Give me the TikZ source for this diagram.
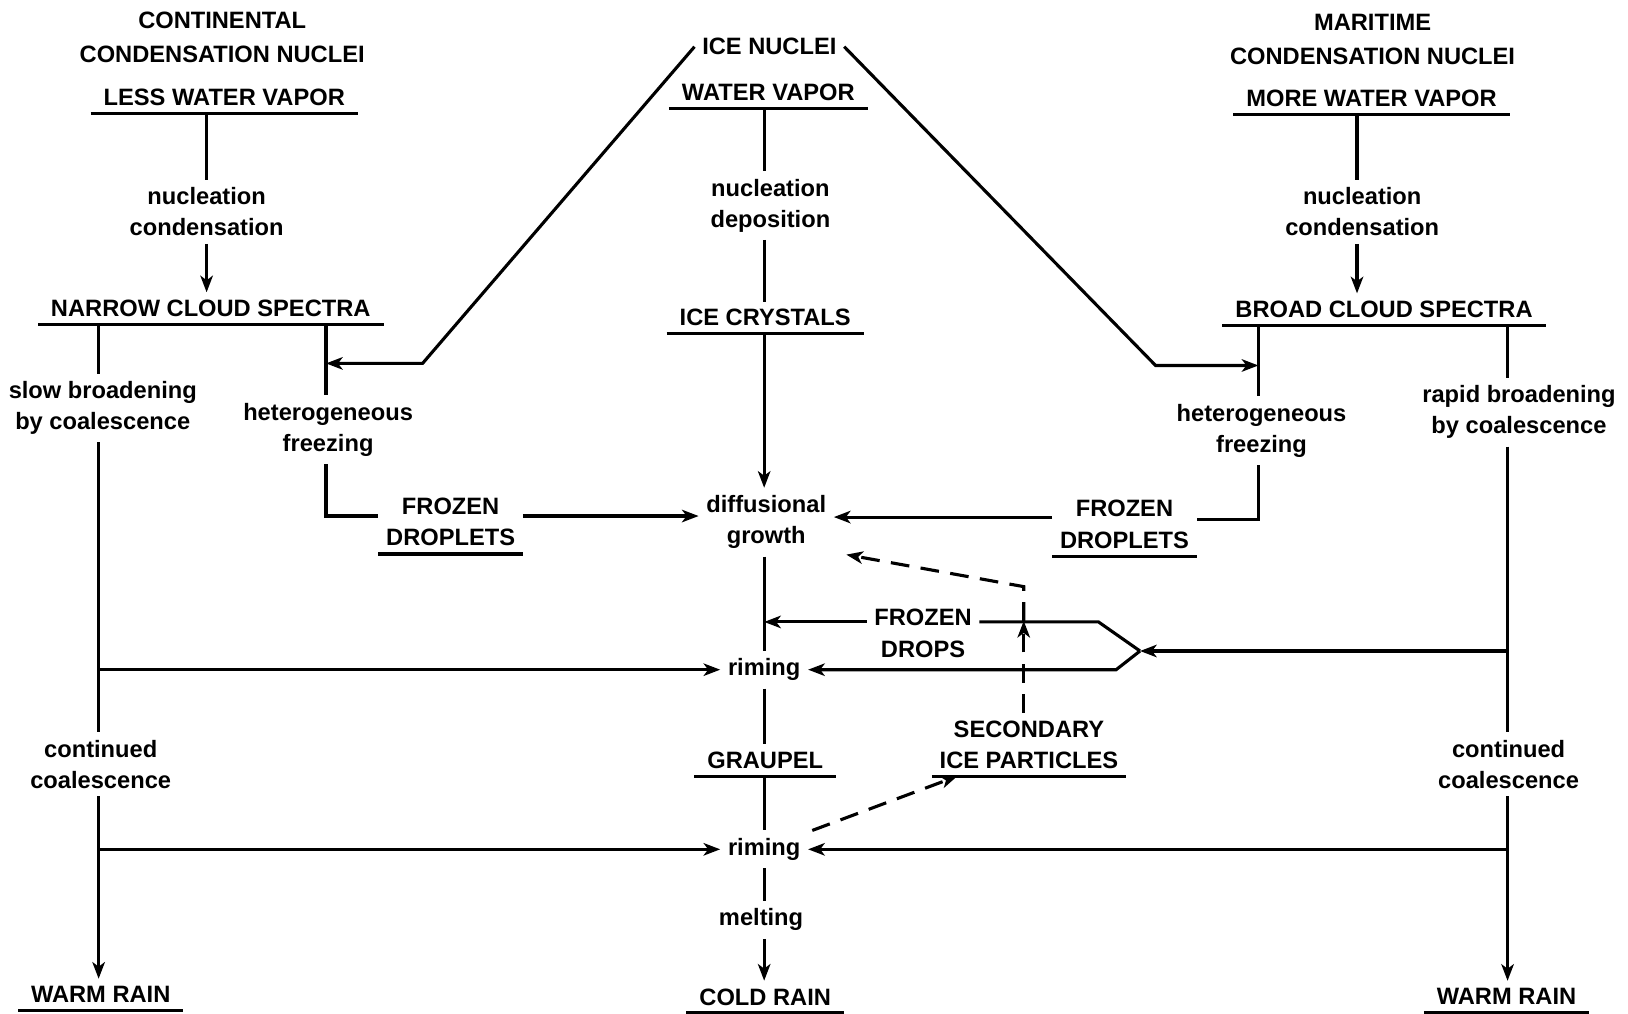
\documentclass[tikz,border=0pt]{standalone}
\usepackage{fontspec}
\setmainfont{Liberation Sans}
\usetikzlibrary{arrows.meta}
\begin{document}
\begin{tikzpicture}[x=0.5pt,y=-0.5pt, line width=1.5pt,
  >={Stealth[length=8pt,width=6pt,inset=2.2pt]},
  lbl/.style={font=\bfseries\fontsize{11.4}{15}\selectfont, align=center, inner sep=3pt},
  lblw/.style={font=\bfseries\fontsize{11.4}{16}\selectfont, align=center, inner sep=3pt},
  ttl/.style={lbl, inner xsep=5.5pt, inner ysep=3pt, text depth=0pt},
  dsh/.style={dash pattern=on 9pt off 5.5pt}]
\useasboundingbox (0,0) rectangle (1568,976);

% column coordinates
\coordinate (xL) at (95,0);
\coordinate (xL2) at (314,0);
\coordinate (xLn) at (199,0);
\coordinate (xC) at (736,0);
\coordinate (xS) at (986,0);
\coordinate (xR2) at (1212,0);
\coordinate (xRn) at (1307,0);
\coordinate (xR) at (1452,0);
\coordinate (jn) at (1098,627);

% left
\node[lblw] (cont) at (214,36) {CONTINENTAL\\CONDENSATION NUCLEI};
\node[ttl] (lwv) at (216,94) {LESS WATER VAPOR};
\node[lbl] (ncL) at (199,204) {nucleation\\condensation};
\node[ttl] (ncs) at (203,297) {NARROW CLOUD SPECTRA};
\node[lbl] (sbc) at (99,393) {slow broadening\\by coalescence};
\node[lbl] (hfL) at (316,414) {heterogeneous\\freezing};
\node[lbl] (fdL) at (434,503) {FROZEN\\DROPLETS};
\node[lbl] (ccL) at (97,736) {continued\\coalescence};
\node[ttl] (wrL) at (97,958) {WARM RAIN};

% centre
\node[lbl] (icen) at (741,45) {ICE NUCLEI};
\node[ttl] (wv) at (740,89) {WATER VAPOR};
\node[lbl] (nd) at (742,198) {nucleation\\deposition};
\node[ttl] (ic) at (737,306) {ICE CRYSTALS};
\node[lbl] (dg) at (738,503) {diffusional\\growth};
\node[lbl] (fdp) at (889,610) {FROZEN\\DROPS};
\node[lbl] (rim1) at (736,645) {riming};
\node[ttl] (gr) at (737,732) {GRAUPEL};
\node[lbl] (sip) at (991,717) {SECONDARY\\ICE PARTICLES};
\node[lbl] (rim2) at (736,818) {riming};
\node[lbl] (melt) at (733,886) {melting};
\node[ttl] (cr) at (737,960) {COLD RAIN};

% right
\node[lblw] (mar) at (1322,38) {MARITIME\\CONDENSATION NUCLEI};
\node[ttl] (mwv) at (1321,95) {MORE WATER VAPOR};
\node[lbl] (ncR) at (1312,204) {nucleation\\condensation};
\node[ttl] (bcs) at (1333,298) {BROAD CLOUD SPECTRA};
\node[lbl] (hfR) at (1215,415) {heterogeneous\\freezing};
\node[lbl] (fdR) at (1083,505) {FROZEN\\DROPLETS};
\node[lbl] (rbc) at (1463,397) {rapid broadening\\by coalescence};
\node[lbl] (ccR) at (1453,736) {continued\\coalescence};
\node[ttl] (wrR) at (1451,960) {WARM RAIN};

% underlines
\foreach \n in {lwv,ncs,wrL,wv,ic,gr,cr,mwv,bcs,wrR}
  \draw (\n.south west) -- (\n.south east);
\foreach \n in {fdL,fdR,sip}
  \draw (\n.south west) -- (\n.south east);

% left column connectors
\draw (xLn |- lwv.south) -- (xLn |- ncL.north);
\draw[->] (xLn |- ncL.south) -- (xLn |- ncs.north);
\draw (xL |- ncs.south) -- (xL |- sbc.north);
\draw (xL |- sbc.south) -- (xL |- ccL.north);
\draw[->] (xL |- ccL.south) -- (xL |- wrL.north);
\draw[->] (xL |- rim1.west) -- (rim1.west);
\draw[->] (xL |- rim2.west) -- (rim2.west);
\draw (xL2 |- ncs.south) -- (xL2 |- hfL.north);
\draw[->] (icen.west) -- (407,350) -- (xL2 |- 0,350);
\draw (xL2 |- hfL.south) -- (xL2 |- 0,497) -- (fdL.west |- 0,497);
\draw[->] (fdL.east |- 0,497) -- (dg.west |- 0,497);

% centre column connectors
\draw (xC |- wv.south) -- (xC |- nd.north);
\draw (xC |- nd.south) -- (xC |- ic.north);
\draw[->] (xC |- ic.south) -- (xC |- dg.north);
\draw (xC |- dg.south) -- (xC |- rim1.north);
\draw (xC |- rim1.south) -- (xC |- gr.north);
\draw (xC |- gr.south) -- (xC |- rim2.north);
\draw (xC |- rim2.south) -- (xC |- melt.north);
\draw[->] (xC |- melt.south) -- (xC |- cr.north);

% right column connectors
\draw[->] (icen.east) -- (1113,352) -- (xR2 |- 0,352);
\draw (xRn |- mwv.south) -- (xRn |- ncR.north);
\draw[->] (xRn |- ncR.south) -- (xRn |- bcs.north);
\draw (xR2 |- bcs.south) -- (xR2 |- hfR.north);
\draw (xR2 |- hfR.south) -- (xR2 |- 0,500) -- (fdR.east |- 0,500);
\draw[->] (fdR.west |- 0,498) -- (dg.east |- 0,498);
\draw (xR |- bcs.south) -- (xR |- rbc.north);
\draw (xR |- rbc.south) -- (xR |- ccR.north);
\draw[->] (xR |- ccR.south) -- (xR |- wrR.north);
\draw[->] (xR |- jn) -- (jn);
\draw (jn) -- (1058,599) -- (fdp.east |- 0,599);
\draw[->] (fdp.west |- 0,599) -- (xC |- 0,599);
\draw[->] (jn) -- (1075,0 |- rim1.east) -- (rim1.east);
\draw[->] (xR |- rim2.east) -- (rim2.east);

% secondary ice (dashed)
\draw[dsh,->] (xS |- sip.north) -- (xS |- 0,598);
\draw[dsh,->] (xS |- 0,598) -- (xS |- 0,565) -- ([xshift=6pt,yshift=1pt]dg.south east);
\draw[dsh,->] ([xshift=2pt]rim2.north east) -- (sip.south -| 922,0);
\end{tikzpicture}
\end{document}
